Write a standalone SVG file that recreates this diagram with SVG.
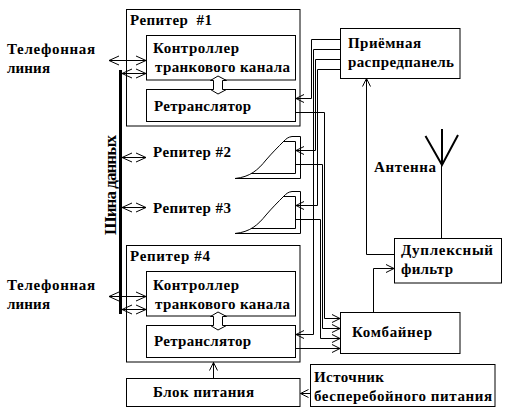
<svg xmlns="http://www.w3.org/2000/svg" width="506" height="415" viewBox="0 0 506 415">
<style>
rect,path.l{fill:none;stroke:#000;stroke-width:1}
rect{fill:#fff}
text{font-family:"Liberation Serif","DejaVu Serif",serif;font-weight:bold;font-size:15px;fill:#000}
.c path{fill:none;stroke:#000;stroke-width:1}
</style>
<defs>
<marker id="a" markerUnits="userSpaceOnUse" markerWidth="14" markerHeight="12" refX="11" refY="6" orient="auto-start-reverse"><path d="M1 1.500L11 6L1 10.500" fill="none" stroke="#000"/></marker>
<marker id="s" markerUnits="userSpaceOnUse" markerWidth="12" markerHeight="12" refX="9" refY="6" orient="auto"><path d="M1 2L9 6L1 10" fill="none" stroke="#000"/></marker>
</defs>
<rect width="506" height="415" style="fill:#fff;stroke:none"/>
<g id="repeater1"><rect x="126.500" y="9.500" width="173.500" height="116.500"/><text x="130" y="25" textLength="82" xml:space="preserve">Репитер  #1</text></g>
<g id="controller1"><rect x="146.500" y="35.500" width="149" height="44.500"/><text x="153" y="52.500" textLength="86">Контроллер</text><text x="155" y="71.500" textLength="135">транкового канала</text></g>
<g id="relay1"><rect x="146.500" y="89.500" width="149" height="32"/><text x="154" y="111" textLength="97">Ретранслятор</text></g>
<g id="repeater4"><rect x="126.500" y="245.500" width="173.500" height="116.500"/><text x="130" y="260.500" textLength="80">Репитер #4</text></g>
<g id="controller4"><rect x="146.500" y="271.500" width="149" height="44.500"/><text x="153" y="290" textLength="86">Контроллер</text><text x="155" y="308.500" textLength="135">транкового канала</text></g>
<g id="relay4"><rect x="146.500" y="325.500" width="149" height="32"/><text x="154" y="346" textLength="97">Ретранслятор</text></g>
<g id="power"><rect x="126.500" y="378.500" width="173.500" height="28"/><text x="153" y="397" textLength="101">Блок питания</text></g>
<g id="ups"><rect x="310.500" y="364.500" width="184.500" height="42"/><text x="314" y="381.500" textLength="70">Источник</text><text x="314" y="400.500" textLength="178">бесперебойного питания</text></g>
<g id="rx"><rect x="340.500" y="28.500" width="119.500" height="50"/><text x="348" y="48" textLength="73">Приёмная</text><text x="348" y="67" textLength="106">распредпанель</text></g>
<g id="duplex"><rect x="394.500" y="238.500" width="107" height="44.500"/><text x="401" y="255" textLength="92">Дуплексный</text><text x="401" y="274" textLength="52">фильтр</text></g>
<g id="combiner"><rect x="340.500" y="312.500" width="119.500" height="41"/><text x="352" y="337" textLength="80">Комбайнер</text></g>
<g id="repeater2"><text x="153" y="157" textLength="78">Репитер #2</text></g>
<g id="repeater3"><text x="153" y="213" textLength="78">Репитер #3</text></g>
<g id="labels"><text x="7" y="54" textLength="88">Телефонная</text><text x="7" y="72.500" textLength="43">линия</text><text x="7" y="290" textLength="88">Телефонная</text><text x="7" y="308.500" textLength="43">линия</text><text x="374" y="172" textLength="62">Антенна</text><text transform="translate(116 235) rotate(-90)" textLength="100" style="font-size:17px">Шина данных</text></g>
<g class="c" id="connectors">
<path d="M120.500 70V314" style="stroke-width:3"/>
<path d="M109 60.500H146" marker-start="url(#a)" marker-end="url(#a)"/>
<path d="M122 73.500H146" marker-start="url(#a)" marker-end="url(#a)"/>
<path d="M122 157.500H146" marker-start="url(#a)" marker-end="url(#a)"/>
<path d="M122 207.500H146" marker-start="url(#a)" marker-end="url(#a)"/>
<path d="M109 296.500H146" marker-start="url(#a)" marker-end="url(#a)"/>
<path d="M122 309.500H146" marker-start="url(#a)" marker-end="url(#a)"/>
<path d="M218 76L226.500 80.500H222.500V89.500H226.500L218 94L210.500 89.500H213.500V80.500H210.500Z" style="fill:#fff"/>
<path d="M218 312L226.500 316.500H222.500V325.500H226.500L218 330L210.500 325.500H213.500V316.500H210.500Z" style="fill:#fff"/>
<path d="M340.500 39.500H311.500V98.500H296" marker-end="url(#s)"/>
<path d="M340.500 49.500H313.500V334.500H296" marker-end="url(#s)"/>
<path d="M340.500 59.500H315.500V150.500H296" marker-end="url(#s)"/>
<path d="M340.500 69.500H317.500V205.500H296" marker-end="url(#s)"/>
<path d="M295.500 112.500H324.500V318.500H340" marker-end="url(#s)"/>
<path d="M295.500 164.500H322.500V328.500H340" marker-end="url(#s)"/>
<path d="M295.500 219.500H320.500V338.500H340" marker-end="url(#s)"/>
<path d="M295.500 348.500H340" marker-end="url(#s)"/>
<path d="M235 178.500H300.500V136.500H292C288 137 286 139 284 141C278 147 272 153 266 160C258 170 250 177 235 178.500"/>
<path d="M284 141.500H295.500V173.500H251"/>
<path d="M235 233.500H300.500V191.500H292C288 192 286 194 284 196C278 202 272 208 266 215C258 225 250 232 235 233.500"/>
<path d="M284 196.500H295.500V228.500H251"/>
<path d="M394 254.500H366.500V78.500" marker-end="url(#s)"/>
<path d="M373.500 312V268.500H394" marker-end="url(#s)"/>
<path d="M441.500 238V165"/>
<path d="M442 129V165" style="stroke-width:2"/>
<path d="M425.500 136L442 165L458 135" style="stroke-width:2"/>
<path d="M213.500 378V362.500" marker-end="url(#s)"/>
<path d="M310 393.500H300.500" marker-end="url(#s)"/>
</g>
</svg>
